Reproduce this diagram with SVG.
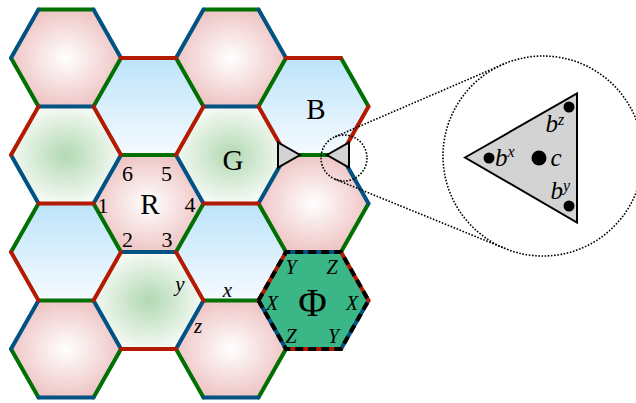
<svg xmlns="http://www.w3.org/2000/svg" xmlns:xlink="http://www.w3.org/1999/xlink" width="636" height="403" viewBox="0 0 636 403">
<style>
.r{stroke:#b41a00}.g{stroke:#007000}.b{stroke:#005282}
#edges line{stroke-width:4;stroke-linecap:round}
.t{font-family:"Liberation Serif","Times New Roman",serif;fill:#000;text-anchor:middle}
.s{text-anchor:start}
.i{font-style:italic}
.dot{fill:none;stroke:#000;stroke-width:1.6;stroke-dasharray:1.6 1.6}
</style>
<defs>
<polygon id="hex" points="-55,0 -27.5,-48.5 27.5,-48.5 55,0 27.5,48.5 -27.5,48.5"/>
<radialGradient id="gp"><stop offset="0" stop-color="#ffffff"/><stop offset="1" stop-color="#efc6c6"/></radialGradient>
<radialGradient id="gg"><stop offset="0" stop-color="#b2d9b2"/><stop offset="1" stop-color="#f4f9f4"/></radialGradient>
<linearGradient id="gb" x1="0" y1="0" x2="0" y2="1"><stop offset="0" stop-color="#bce3fa"/><stop offset="1" stop-color="#f6fbff"/></linearGradient>
</defs>
<g id="plaquettes">
<g id="p00"><use xlink:href="#hex" x="66" y="58" fill="url(#gp)"/></g>
<g id="p01"><use xlink:href="#hex" x="66" y="155" fill="url(#gg)"/></g>
<g id="p02"><use xlink:href="#hex" x="66" y="252" fill="url(#gb)"/></g>
<g id="p03"><use xlink:href="#hex" x="66" y="349" fill="url(#gp)"/></g>
<g id="p10"><use xlink:href="#hex" x="148.5" y="106.5" fill="url(#gb)"/></g>
<g id="nodeR"><use xlink:href="#hex" x="148.5" y="203.5" fill="url(#gp)"/></g>
<g id="p12"><use xlink:href="#hex" x="148.5" y="300.5" fill="url(#gg)"/></g>
<g id="p20"><use xlink:href="#hex" x="231" y="58" fill="url(#gp)"/></g>
<g id="nodeG"><use xlink:href="#hex" x="231" y="155" fill="url(#gg)"/></g>
<g id="p22"><use xlink:href="#hex" x="231" y="252" fill="url(#gb)"/></g>
<g id="p23"><use xlink:href="#hex" x="231" y="349" fill="url(#gp)"/></g>
<g id="nodeB"><use xlink:href="#hex" x="313.5" y="106.5" fill="url(#gb)"/></g>
<g id="p31"><use xlink:href="#hex" x="313.5" y="203.5" fill="url(#gp)"/></g>
<g id="nodePhi"><use xlink:href="#hex" x="313.5" y="300.5" fill="#3bb686"/></g>
</g>
<g id="edges">
<g class="g">
<line x1="38.5" y1="9.5" x2="93.5" y2="9.5"/>
<line x1="121" y1="58" x2="93.5" y2="106.5"/>
<line x1="38.5" y1="106.5" x2="11" y2="58"/>
<line x1="176" y1="58" x2="203.5" y2="106.5"/>
<line x1="176" y1="155" x2="121" y2="155"/>
<line x1="93.5" y1="203.5" x2="121" y2="252"/>
<line x1="38.5" y1="300.5" x2="93.5" y2="300.5"/>
<line x1="11" y1="252" x2="38.5" y2="203.5"/>
<line x1="121" y1="349" x2="93.5" y2="397.5"/>
<line x1="38.5" y1="397.5" x2="11" y2="349"/>
<line x1="203.5" y1="203.5" x2="176" y2="252"/>
<line x1="203.5" y1="9.5" x2="258.5" y2="9.5"/>
<line x1="286" y1="58" x2="258.5" y2="106.5"/>
<line x1="258.5" y1="203.5" x2="286" y2="252"/>
<line x1="203.5" y1="300.5" x2="258.5" y2="300.5"/>
<line x1="286" y1="349" x2="258.5" y2="397.5"/>
<line x1="203.5" y1="397.5" x2="176" y2="349"/>
<line x1="341" y1="58" x2="368.5" y2="106.5"/>
<line x1="286" y1="155" x2="341" y2="155"/>
<line x1="368.5" y1="203.5" x2="341" y2="252"/>
</g>
<g class="b">
<line x1="93.5" y1="9.5" x2="121" y2="58"/>
<line x1="38.5" y1="106.5" x2="93.5" y2="106.5"/>
<line x1="11" y1="58" x2="38.5" y2="9.5"/>
<line x1="121" y1="155" x2="93.5" y2="203.5"/>
<line x1="38.5" y1="203.5" x2="11" y2="155"/>
<line x1="93.5" y1="300.5" x2="121" y2="349"/>
<line x1="38.5" y1="397.5" x2="93.5" y2="397.5"/>
<line x1="11" y1="349" x2="38.5" y2="300.5"/>
<line x1="176" y1="155" x2="203.5" y2="203.5"/>
<line x1="121" y1="252" x2="176" y2="252"/>
<line x1="203.5" y1="300.5" x2="176" y2="349"/>
<line x1="258.5" y1="9.5" x2="286" y2="58"/>
<line x1="203.5" y1="106.5" x2="258.5" y2="106.5"/>
<line x1="176" y1="58" x2="203.5" y2="9.5"/>
<line x1="286" y1="155" x2="258.5" y2="203.5"/>
<line x1="258.5" y1="300.5" x2="286" y2="349"/>
<line x1="203.5" y1="397.5" x2="258.5" y2="397.5"/>
<line x1="341" y1="155" x2="368.5" y2="203.5"/>
<line x1="286" y1="252" x2="341" y2="252"/>
<line x1="368.5" y1="300.5" x2="341" y2="349"/>
</g>
<g class="r">
<line x1="121" y1="58" x2="176" y2="58"/>
<line x1="203.5" y1="106.5" x2="176" y2="155"/>
<line x1="121" y1="155" x2="93.5" y2="106.5"/>
<line x1="38.5" y1="203.5" x2="93.5" y2="203.5"/>
<line x1="11" y1="155" x2="38.5" y2="106.5"/>
<line x1="121" y1="252" x2="93.5" y2="300.5"/>
<line x1="38.5" y1="300.5" x2="11" y2="252"/>
<line x1="176" y1="252" x2="203.5" y2="300.5"/>
<line x1="121" y1="349" x2="176" y2="349"/>
<line x1="258.5" y1="106.5" x2="286" y2="155"/>
<line x1="203.5" y1="203.5" x2="258.5" y2="203.5"/>
<line x1="286" y1="252" x2="258.5" y2="300.5"/>
<line x1="286" y1="58" x2="341" y2="58"/>
<line x1="368.5" y1="106.5" x2="341" y2="155"/>
<line x1="341" y1="252" x2="368.5" y2="300.5"/>
<line x1="286" y1="349" x2="341" y2="349"/>
</g>
</g>
<polygon id="phiOutline" points="258.5,300.5 286,252 341,252 368.5,300.5 341,349 286,349" fill="none" stroke="#000" stroke-width="4" stroke-dasharray="8 5"/>
<g id="vertexTriangles" fill="#d3d3d3" stroke="#000" stroke-width="2" stroke-linejoin="miter">
<polygon points="278,142.5 278,167.5 300,155"/>
<polygon points="349,142.5 349,167.5 327,155"/>
</g>
<g id="connectors">
<circle class="dot" cx="344" cy="158" r="23"/>
<line class="dot" x1="335.1" y1="136.8" x2="504.3" y2="63.8"/>
<line class="dot" x1="335.1" y1="179.2" x2="504.3" y2="248.2"/>
</g>
<g id="zoomNode">
<circle class="dot" cx="543" cy="156" r="100"/>
<polygon points="465,157.5 577,93.5 577,222.5" fill="#d3d3d3" stroke="#000" stroke-width="2"/>
<circle cx="569" cy="107" r="5.5"/>
<circle cx="489" cy="158" r="5.5"/>
<circle cx="539" cy="158" r="7.5"/>
<circle cx="569" cy="206" r="5.5"/>
<text class="t s i" x="495" y="165.5" font-size="25">b<tspan font-size="16" dy="-9">x</tspan></text>
<text class="t s i" x="550.5" y="165.5" font-size="25">c</text>
<text class="t s i" x="545.5" y="131.5" font-size="25">b<tspan font-size="16" dy="-7">z</tspan></text>
<text class="t s i" x="550.5" y="198.5" font-size="25">b<tspan font-size="16" dy="-8">y</tspan></text>
</g>
<g id="labels">
<text class="t" x="150" y="213.5" font-size="29">R</text>
<text class="t" x="233" y="169.5" font-size="29">G</text>
<text class="t" x="316" y="118.5" font-size="29">B</text>
<text class="t" x="127.5" y="180.5" font-size="22">6</text>
<text class="t" x="166.5" y="180.5" font-size="22">5</text>
<text class="t" x="103" y="213" font-size="22">1</text>
<text class="t" x="190" y="212" font-size="22">4</text>
<text class="t" x="127.5" y="247" font-size="22">2</text>
<text class="t" x="167" y="246.5" font-size="22">3</text>
<text class="t i" x="180" y="291" font-size="21">y</text>
<text class="t i" x="227.5" y="297" font-size="21">x</text>
<text class="t i" x="198" y="333" font-size="21">z</text>
<text class="t" x="312.5" y="316" font-size="39">Φ</text>
<text class="t i" x="291" y="274" font-size="20">Y</text>
<text class="t i" x="332" y="274" font-size="20">Z</text>
<text class="t i" x="272" y="309.5" font-size="20">X</text>
<text class="t i" x="352" y="309.5" font-size="20">X</text>
<text class="t i" x="291" y="343" font-size="20">Z</text>
<text class="t i" x="333.5" y="343" font-size="20">Y</text>
</g>
</svg>
